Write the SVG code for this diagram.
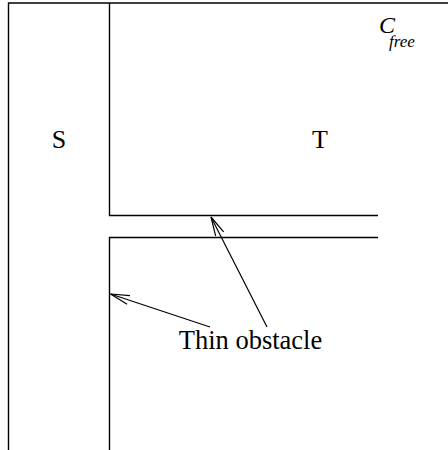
<svg xmlns="http://www.w3.org/2000/svg" width="448" height="450" viewBox="0 0 448 450">
  <defs>
    <style>
      .wall { fill: none; stroke: #000; stroke-width: 1.4; }
      .conn { fill: none; stroke: #000; stroke-width: 1.2; }
      .lbl { font-family: "Liberation Serif", "Times New Roman", serif; fill: #000; }
    </style>
    <marker id="head" markerUnits="userSpaceOnUse" markerWidth="24" markerHeight="12" viewBox="-20 -6 22 12" refX="0" refY="0" orient="auto">
      <path d="M-19,-4.5 L0,0 L-19,4.5" fill="none" stroke="#000" stroke-width="1.2"/>
    </marker>
  </defs>
  <rect width="448" height="450" fill="#fff"/>
  <g id="border">
    <path class="wall" d="M8.5,450 L8.5,3 L448,3"/>
  </g>
  <g id="region-T">
    <path class="wall" d="M109.5,3 L109.5,215.5 L378,215.5"/>
    <text class="lbl" x="320" y="148" font-size="26" text-anchor="middle">T</text>
  </g>
  <g id="region-S">
    <path class="wall" d="M378,237.5 L109.5,237.5 L109.5,450"/>
    <text class="lbl" x="59" y="148" font-size="26" text-anchor="middle">S</text>
  </g>
  <g id="cfree">
    <text class="lbl" x="379" y="33" font-size="24" font-style="italic">C</text>
    <text class="lbl" x="389" y="47" font-size="17" font-style="italic">free</text>
  </g>
  <g id="label-thin">
    <text class="lbl" x="250.5" y="349" font-size="26.5" text-anchor="middle">Thin obstacle</text>
  </g>
  <g id="connectors">
    <line class="conn" x1="267" y1="327" x2="211" y2="217" marker-end="url(#head)"/>
    <line class="conn" x1="210" y1="327" x2="110.5" y2="294" marker-end="url(#head)"/>
  </g>
</svg>
